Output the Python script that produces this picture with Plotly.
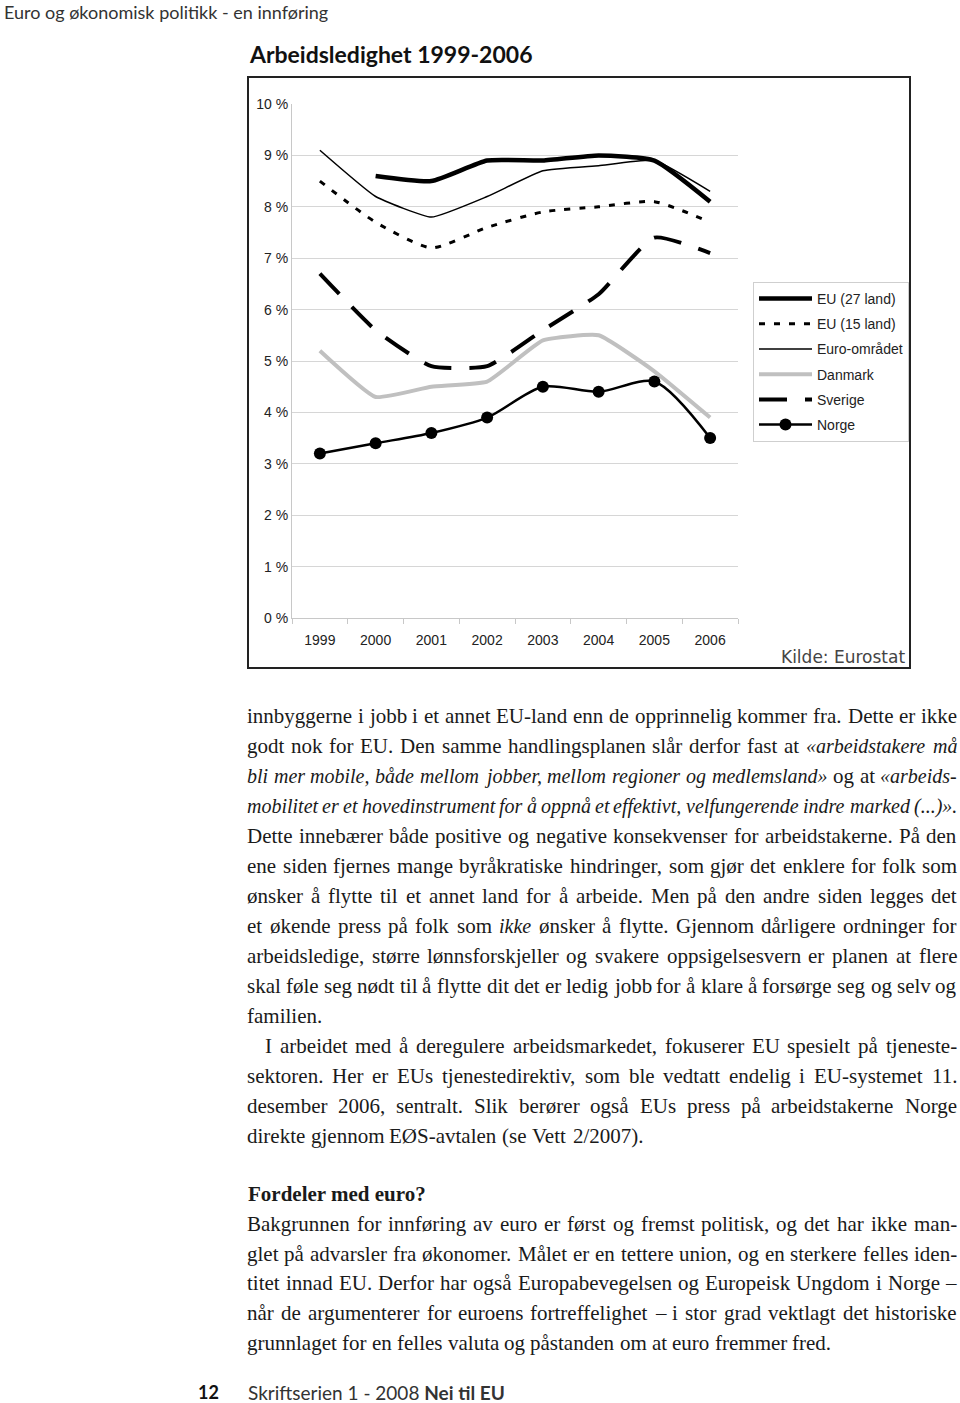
import plotly.graph_objects as go

# ---------------------------------------------------------------
# Data (unemployment in %)
# ---------------------------------------------------------------
years = ["1999", "2000", "2001", "2002", "2003", "2004", "2005", "2006"]
eu27 = [None, 8.6, 8.5, 8.9, 8.9, 9.0, 8.9, 8.1]
eu15 = [8.5, 7.7, 7.2, 7.6, 7.9, 8.0, 8.1, 7.7]
euro_area = [9.1, 8.2, 7.8, 8.2, 8.7, 8.8, 8.9, 8.3]
danmark = [5.2, 4.3, 4.5, 4.6, 5.4, 5.5, 4.8, 3.9]
sverige = [6.7, 5.6, 4.9, 4.9, 5.6, 6.3, 7.4, 7.1]
norge = [3.2, 3.4, 3.6, 3.9, 4.5, 4.4, 4.6, 3.5]

y_ticks = list(range(0, 11))
y_labels = [f"{v} %" for v in y_ticks]

# Page text
header = "Euro og økonomisk politikk - en innføring"
chart_title = "Arbeidsledighet 1999-2006"
source = "Kilde: Eurostat"

# *...* marks italic words
para1 = [
    "innbyggerne i jobb i et annet EU-land enn de opprinnelig kommer fra. Dette er ikke",
    "godt nok for EU. Den samme handlingsplanen slår derfor fast at *«arbeidstakere må*",
    "*bli mer mobile, både mellom jobber, mellom regioner og medlemsland»* og at *«arbeids-*",
    "*mobilitet er et hovedinstrument for å oppnå et effektivt, velfungerende indre marked (...)».*",
    "Dette innebærer både positive og negative konsekvenser for arbeidstakerne. På den",
    "ene siden fjernes mange byråkratiske hindringer, som gjør det enklere for folk som",
    "ønsker å flytte til et annet land for å arbeide. Men på den andre siden legges det",
    "et økende press på folk som *ikke* ønsker å flytte. Gjennom dårligere ordninger for",
    "arbeidsledige, større lønnsforskjeller og svakere oppsigelsesvern er planen at flere",
    "skal føle seg nødt til å flytte dit det er ledig jobb for å klare å forsørge seg og selv og",
    "familien.",
]
para2 = [
    "I arbeidet med å deregulere arbeidsmarkedet, fokuserer EU spesielt på tjeneste-",
    "sektoren. Her er EUs tjenestedirektiv, som ble vedtatt endelig i EU-systemet 11.",
    "desember 2006, sentralt. Slik berører også EUs press på arbeidstakerne Norge",
    "direkte gjennom EØS-avtalen (se Vett 2/2007).",
]
heading = "Fordeler med euro?"
para3 = [
    "Bakgrunnen for innføring av euro er først og fremst politisk, og det har ikke man-",
    "glet på advarsler fra økonomer. Målet er en tettere union, og en sterkere felles iden-",
    "titet innad EU. Derfor har også Europabevegelsen og Europeisk Ungdom i Norge –",
    "når de argumenterer for euroens fortreffelighet – i stor grad vektlagt det historiske",
    "grunnlaget for en felles valuta og påstanden om at euro fremmer fred.",
]
page_no = "12"
footer = "Skriftserien 1 - 2008 <b>Nei til EU</b>"

# ---------------------------------------------------------------
# Page geometry / styles
# ---------------------------------------------------------------
W, H = 960, 1403
SERIF = "Liberation Serif"
SANS = "Lato"
CHART_FONT = "Liberation Sans"
TEXT = "#1a1a1a"
BODY_SIZE = 21
ITALIC_SIZE = 20


def px(x):
    return x / W


def py(y):
    return 1 - y / H


# Times / Liberation Serif advance widths (1/1000 em), used to justify lines
_reg = [(250, " ,."), (278, "ijlt/:;"), (333, "frI()-"), (389, "sJ"),
        (444, "aceåz?"), (500, "bdghknopquvxy0123456789ø«»–"), (556, "FPS"),
        (611, "ELTZ"), (667, "BCRæ"), (722, "ADGHKNOUVXYwØÅQ"), (778, "m"),
        (889, "M"), (944, "W")]
_ital = [(250, " ,."), (278, "ijltf/"), (333, "()-I:"), (389, "rsz"),
         (444, "cekvxy"), (500, "abdghnopqu0123456789åø«»?"), (556, "LTYZ"),
         (611, "ABEFPRVX"), (667, "CKNw"), (722, "DGHOUQm"), (833, "MW")]
REG = {ch: w for w, chars in _reg for ch in chars}
ITAL = {ch: w for w, chars in _ital for ch in chars}


def word_width(word, italic):
    table, size = (ITAL, ITALIC_SIZE) if italic else (REG, BODY_SIZE)
    return sum(table.get(ch, 500) for ch in word) / 1000 * size


def add_text_line(fig, text, y, x0=247, x1=957, justify=True):
    words, italic = [], False
    for tok in text.split(" "):
        if tok.startswith("*"):
            tok, italic = tok[1:], True
        end = tok.endswith("*")
        if end:
            tok = tok[:-1]
        words.append((tok, italic))
        if end:
            italic = False
    widths = [word_width(w, it) for w, it in words]
    if justify and len(words) > 1:
        gap = (x1 - x0 - sum(widths)) / (len(words) - 1)
    else:
        gap = 0.25 * BODY_SIZE
    x = x0
    for i, ((w, it), wd) in enumerate(zip(words, widths)):
        last = justify and i == len(words) - 1 and len(words) > 1
        fig.add_annotation(
            x=px(x1 if last else x), y=py(y), xref="paper", yref="paper",
            text=f"<i>{w}</i>" if it else w, showarrow=False,
            xanchor="right" if last else "left", yanchor="middle",
            borderpad=0, borderwidth=0,
            font=dict(family=SERIF, size=ITALIC_SIZE if it else BODY_SIZE, color=TEXT),
        )
        x += wd + gap


# ---------------------------------------------------------------
# Figure
# ---------------------------------------------------------------
fig = go.Figure()

fig.add_trace(go.Scatter(x=years, y=eu27, name="EU (27 land)", mode="lines",
                         line=dict(color="#000000", width=4.5, shape="spline", smoothing=0.5)))
fig.add_trace(go.Scatter(x=years, y=eu15, name="EU (15 land)", mode="lines",
                         line=dict(color="#000000", width=3, dash="6px,9px", shape="spline", smoothing=0.6)))
fig.add_trace(go.Scatter(x=years, y=euro_area, name="Euro-området", mode="lines",
                         line=dict(color="#000000", width=1.5, shape="spline", smoothing=0.4)))
fig.add_trace(go.Scatter(x=years, y=danmark, name="Danmark", mode="lines",
                         line=dict(color="#c0c0c0", width=4, shape="spline", smoothing=0.4)))
fig.add_trace(go.Scatter(x=years, y=sverige, name="Sverige", mode="lines",
                         line=dict(color="#000000", width=4, dash="28px,18px", shape="spline", smoothing=0.5)))
fig.add_trace(go.Scatter(x=years, y=norge, name="Norge", mode="lines+markers",
                         line=dict(color="#000000", width=2.5, shape="spline", smoothing=0.8),
                         marker=dict(color="#000000", size=12)))

for i, tr in enumerate(fig.data):
    tr.legendgroup = f"g{i}"

fig.update_layout(
    width=W, height=H, autosize=False,
    margin=dict(l=0, r=0, t=0, b=0, pad=0, autoexpand=False),
    paper_bgcolor="white", plot_bgcolor="white",
    font=dict(family=CHART_FONT, size=14, color="#222222"),
    xaxis=dict(
        domain=[px(292), px(738)], type="category", categoryorder="array",
        categoryarray=years, range=[-0.5, 7.5], showgrid=False, zeroline=False,
        showline=True, linecolor="#c8c8c8", linewidth=1, automargin=False,
        ticks="outside", tickson="boundaries", ticklen=5, tickcolor="#c8c8c8",
        ticklabelstandoff=9, tickfont=dict(family=CHART_FONT, size=14, color="#222222"),
    ),
    yaxis=dict(
        domain=[py(618), py(104)], range=[0, 10], tickvals=y_ticks, ticktext=y_labels,
        showgrid=True, gridcolor="#d6d6d6", gridwidth=1, zeroline=False,
        showline=True, linecolor="#c8c8c8", linewidth=1, ticks="", automargin=False,
        ticklabelstandoff=0, tickfont=dict(family=CHART_FONT, size=14, color="#222222"),
    ),
    legend=dict(
        x=px(753), y=py(282), xanchor="left", yanchor="top",
        bgcolor="white", bordercolor="#cfcfcf", borderwidth=1,
        itemwidth=53, tracegroupgap=4,
        font=dict(family=CHART_FONT, size=14, color="#222222"),
    ),
)

# Chart frame
fig.add_shape(type="rect", xref="paper", yref="paper",
              x0=px(248), x1=px(910), y0=py(668), y1=py(77),
              line=dict(color="#222222", width=2))

# Header, chart title and source
fig.add_annotation(x=px(2), y=py(12), xref="paper", yref="paper", text=header,
                   showarrow=False, xanchor="left", yanchor="middle",
                   font=dict(family=SANS, size=18, color="#333333"))
fig.add_annotation(x=px(247), y=py(54), xref="paper", yref="paper", text=f"<b>{chart_title}</b>",
                   showarrow=False, xanchor="left", yanchor="middle",
                   font=dict(family=SANS, size=23, color="#111111"))
fig.add_annotation(x=px(907), y=py(657), xref="paper", yref="paper", text=source,
                   showarrow=False, xanchor="right", yanchor="middle",
                   font=dict(family="DejaVu Sans", size=17, color="#444444"))

# Body text
for i, line in enumerate(para1):
    add_text_line(fig, line, 716 + i * 30.0, justify=(i < len(para1) - 1))
for i, line in enumerate(para2):
    add_text_line(fig, line, 716 + (len(para1) + i) * 30.0,
                  x0=265 if i == 0 else 247, justify=(i < len(para2) - 1))
fig.add_annotation(x=px(247), y=py(1194), xref="paper", yref="paper", text=f"<b>{heading}</b>",
                   showarrow=False, xanchor="left", yanchor="middle", borderpad=0,
                   font=dict(family=SERIF, size=21, color=TEXT))
for i, line in enumerate(para3):
    add_text_line(fig, line, 1224 + i * 29.7, justify=(i < len(para3) - 1))

# Footer
fig.add_annotation(x=px(196), y=py(1392), xref="paper", yref="paper", text=f"<b>{page_no}</b>",
                   showarrow=False, xanchor="left", yanchor="middle",
                   font=dict(family=SANS, size=18, color="#111111"))
fig.add_annotation(x=px(246), y=py(1392), xref="paper", yref="paper", text=footer,
                   showarrow=False, xanchor="left", yanchor="middle",
                   font=dict(family=SANS, size=19, color="#333333"))

# pin the graph to the top-left corner of the window (no body margin, no scrolling)
pin = ("document.body.style.margin='0';document.body.style.overflow='hidden';"
       "var d=document.getElementById('{plot_id}');"
       "d.style.position='fixed';d.style.left='0px';d.style.top='0px';")
fig.write_html("out.html", config={"displayModeBar": False}, post_script=pin)
